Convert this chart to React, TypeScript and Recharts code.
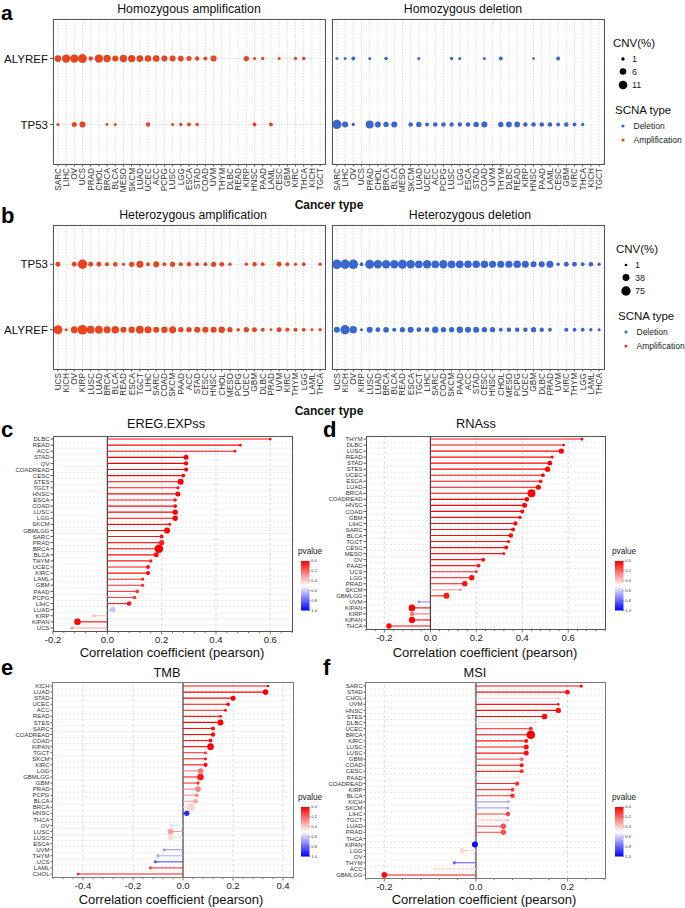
import React from 'react';
import { ScatterChart, Scatter, XAxis, YAxis, CartesianGrid, ReferenceLine } from 'recharts';

const FONT = '"Liberation Sans", Arial, Helvetica, sans-serif';
const RED = '#E8441F';
const BLUE = '#3966CF';

// ---------- Panel a : homozygous CNV (%) ----------
const homoCancers = ['SARC','LIHC','OV','UCS','PRAD','CHOL','BRCA','BLCA','MESO','SKCM','LUAD','UCEC','ACC','PCPG','LUSC','LGG','ESCA','STAD','COAD','UVM','THYM','DLBC','READ','KIRP','HNSC','PAAD','LAML','CESC','GBM','KIRC','THCA','KICH','TGCT'];
const aGenes = ['ALYREF', 'TP53'];
const homoAmpALYREF = [6.2,10,10,11.5,2.6,10,7.7,5,7.7,7.5,6.2,6,6,5,5,4.3,3.2,2.2,1.8,5,null,null,null,3.7,0.7,1,null,0.7,null,1,1.3,null,null];
const homoAmpTP53 = [0.7,null,3.2,5,null,null,0.5,0.7,null,null,null,2.2,null,null,0.7,1,1.6,1.3,null,null,null,null,null,null,1.6,null,1.6,null,null,null,null,null,null];
const homoDelALYREF = [0.7,0.7,1.6,null,0.7,null,1.3,null,null,null,0.7,null,null,null,1,0.7,null,null,0.7,null,1.6,null,null,null,0.5,null,null,1.6,null,null,null,null,null];
const homoDelTP53 = [12.5,5,1,null,9.3,5,3.7,5,null,2.6,3.7,1.7,2.6,2.6,2.2,2.2,2.6,3.7,5,null,3.7,4.3,4.3,2.2,2.6,2.6,2.6,1.7,2.6,1.7,1,null,null];
const aLegendValues = [1, 6, 11];

// ---------- Panel b : heterozygous CNV (%) ----------
const hetCancers = ['UCS','KICH','OV','KIRP','LUSC','LUAD','BRCA','BLCA','READ','ESCA','TGCT','LIHC','SARC','COAD','SKCM','PAAD','ACC','STAD','CESC','HNSC','CHOL','MESO','PCPG','UCEC','GBM','DLBC','PRAD','UVM','KIRC','THYM','LGG','LAML','THCA'];
const bGenes = ['TP53', 'ALYREF'];
const hetAmpTP53 = [17,null,17,75,17,17,10,15,4,20,40,8,27,8,20,10,12,8,8,20,15,5,null,5,12,8,null,16,8,4,8,null,5];
const hetAmpALYREF = [70,3,40,80,50,50,40,48,28,32,50,42,28,32,40,20,20,28,28,28,32,20,5,20,17,8,1,17,10,10,8,2,4];
const hetDelTP53 = [78,75,78,8,68,60,58,58,68,60,50,58,50,58,50,50,48,48,48,42,42,42,48,40,28,28,40,6,16,16,8,14,5];
const hetDelALYREF = [28,75,45,3,28,15,24,10,20,28,15,15,32,20,20,32,28,28,20,20,8,12,13,13,20,12,8,null,10,8,8,5,3];
const bLegendValues = [1, 38, 75];

// ---------- Panel c : EREG.EXPss ----------
const cNames = ['DLBC','READ','ACC','STAD','OV','COADREAD','CESC','STES','TGCT','HNSC','ESCA','COAD','LUSC','LGG','SKCM','GBMLGG','SARC','PRAD','BRCA','BLCA','THYM','UCEC','KIRC','LAML','GBM','PAAD','PCPG','LIHC','LUAD','KIRP','KIPAN','UCS'];
const cR = [0.60,0.49,0.47,0.29,0.29,0.29,0.28,0.27,0.26,0.26,0.25,0.25,0.25,0.25,0.23,0.22,0.20,0.20,0.19,0.18,0.16,0.15,0.15,0.13,0.13,0.11,0.10,0.08,0.02,-0.05,-0.11,-0.13];
const cP = [0.01,0.01,0.02,0,0,0,0.01,0,0.03,0,0.02,0.01,0,0,0.04,0,0.03,0.06,0,0.02,0.05,0.03,0.02,0.08,0.08,0.1,0.12,0.05,0.62,0.38,0,0.3];
const cW = [1.2,1.2,1.2,5,3.8,3.8,2.8,6.7,2.2,5,2.2,2.8,5.5,5.5,1.7,6.7,3.3,5.5,11,5,2.2,3.3,3.8,2.2,2.2,2.8,2.8,4.5,5.5,2.8,7.5,1.7];
const cMajor = [-0.2, 0, 0.2, 0.4, 0.6];

// ---------- Panel d : RNAss ----------
const dNames = ['THYM','DLBC','LUSC','READ','STAD','STES','UCEC','ESCA','LUAD','BRCA','COADREAD','HNSC','COAD','GBM','LIHC','SARC','BLCA','TGCT','CESC','MESO','OV','PAAD','UCS','LGG','PRAD','SKCM','GBMLGG','UVM','KIPAN','KIRP','KIPAN','THCA'];
const dR = [0.66,0.58,0.57,0.53,0.52,0.51,0.49,0.48,0.47,0.44,0.42,0.41,0.40,0.39,0.37,0.36,0.35,0.34,0.33,0.32,0.23,0.21,0.20,0.18,0.15,0.13,0.07,-0.05,-0.08,-0.08,-0.08,-0.18];
const dP = [0.01,0.02,0,0.01,0,0,0.01,0.02,0,0,0,0,0.01,0.02,0.01,0.02,0.01,0.03,0.02,0.04,0.03,0.04,0.06,0.02,0.03,0.3,0.05,0.72,0,0.22,0,0.02];
const dW = [1.7,1.1,5.6,1.7,4.4,5.6,2.8,2.8,5,10,4.4,5,3.3,2.2,3.9,3.3,4.4,2.2,3.3,1.7,3.3,2.8,1.1,5.6,5.6,1.7,6.7,1.1,7.8,3.9,7.2,5.6];
const dMajor = [-0.2, 0, 0.2, 0.4, 0.6];

// ---------- Panel e : TMB ----------
const eNames = ['KICH','LUAD','STAD','UCEC','ACC','READ','STES','SARC','COADREAD','COAD','KIPAN','TGCT','SKCM','KIRC','LGG','GBMLGG','GBM','PRAD','PCPG','BLCA','BRCA','HNSC','THCA','OV','LUSC','LUSC','ESCA','UVM','THYM','UCS','LAML','CHOL'];
const eR = [0.34,0.33,0.20,0.18,0.17,0.15,0.15,0.12,0.12,0.11,0.11,0.09,0.09,0.09,0.07,0.07,0.06,0.06,0.055,0.05,0.03,0.015,null,-0.045,-0.05,-0.05,null,-0.075,-0.10,-0.11,-0.13,-0.42];
const eP = [0.02,0,0,0.01,0.04,0.05,0,0.02,0.01,0.03,0,0.1,0.05,0.03,0.22,0.05,0.1,0.25,0.28,0.32,0.42,0.92,null,0.56,0.3,0.43,null,0.7,0.66,0.85,0.15,0.05];
const eW = [1.1,6.1,5,2.8,1.7,1.7,6.7,3.3,3.9,3.3,7.8,1.7,1.7,3.9,5.6,7.8,2.2,6.1,3.3,4.4,11,5.6,null,3.3,6.1,6.1,null,1.7,2.2,1.7,2.2,1.1];
const eMajor = [-0.4, -0.2, 0, 0.2, 0.4];

// ---------- Panel f : MSI ----------
const fNames = ['SARC','STAD','CHOL','UVM','HNSC','STES','DLBC','UCEC','BRCA','KIRC','LUSC','LUSC','GBM','COAD','CESC','PAAD','COADREAD','KIRP','BLCA','KICH','SKCM','LIHC','TGCT','LUAD','PRAD','THCA','KIPAN','LGG','OV','THYM','ACC','GBMLGG'];
const fR = [0.23,0.20,0.18,0.18,0.18,0.15,0.13,0.12,0.12,0.11,0.11,0.11,0.10,0.10,0.10,0.094,0.09,0.08,0.08,0.071,0.07,0.07,0.07,0.06,0.06,null,-0.002,-0.03,null,-0.047,-0.09,-0.20];
const fP = [0.02,0.02,0.4,0.05,0.02,0.02,0.42,0.05,0,0.03,0.03,0.02,0.2,0.03,0.08,0.45,0.08,0.12,0.1,0.68,0.68,0.12,0.38,0.15,0.15,null,0.98,0.42,null,0.8,0.42,0.02];
const fW = [2.2,4.4,1.1,1.1,5.6,6.1,1.7,2.8,11,3.3,5,5,2.8,3.3,3.3,2.2,3.9,3.3,4.4,1.1,1.7,3.9,2.2,5.6,5.6,null,6.7,5.6,null,2.2,1.7,6.1];
const fMajor = [-0.2, 0, 0.2];

const pLegendTicks = ['0.0', '0.2', '0.4', '0.6', '0.8', '1.0'];

// ---------- helpers ----------
const rA = (v: number) => Math.sqrt(1.2 + 1.6 * v);
const rB = (v: number) => Math.sqrt(1.6 + 0.27 * v);
const rL = (w: number) => 1 + 0.3 * w;

function pColor(p: number) {
  if (p <= 0.5) {
    const g = Math.round(255 * (p / 0.5));
    return `rgb(255,${g},${g})`;
  }
  const rg = Math.round(255 * (1 - (p - 0.5) / 0.5));
  return `rgb(${rg},${rg},255)`;
}

function buildPoints(values: (number | null)[], row: number) {
  const out: { x: number; y: number; v: number }[] = [];
  values.forEach((v, i) => {
    if (v != null) out.push({ x: i + 1, y: row, v });
  });
  return out;
}

function stepTicks(lo: number, hi: number) {
  const out: number[] = [];
  const start = Math.ceil(lo / 0.04 - 1e-9);
  for (let k = start; k * 0.04 <= hi + 1e-9; k++) out.push(Math.round(k * 4) / 100);
  return out;
}

type DotProps = {
  cancers: string[];
  genes: string[];
  series: (number | null)[][];
  color: string;
  rScale: (v: number) => number;
  showY: boolean;
  width: number;
  height: number;
  marginTop: number;
  marginLeft: number;
  marginRight: number;
  yAxisWidth: number;
};

const DotPanel = (props: DotProps) => {
  const { cancers, genes, series, color, rScale, showY, width, height, marginTop, marginLeft, marginRight, yAxisWidth } = props;
  const xTicks = cancers.map((_, i) => i + 1);
  const yTicks = genes.map((_, i) => i + 1);
  const xDomain = [0.4, cancers.length + 0.6];
  const yDomain = [0.4, genes.length + 0.6];
  return (
    <ScatterChart width={width} height={height} margin={{ top: marginTop, right: marginRight, bottom: 0, left: marginLeft }}>
      <CartesianGrid stroke="#d2d2d2" strokeDasharray="1.5 1.5" strokeWidth={0.8} />
      <XAxis
        type="number"
        dataKey="x"
        domain={xDomain}
        ticks={xTicks}
        interval={0}
        height={36}
        tickSize={2.5}
        tickMargin={1.5}
        stroke="#555"
        axisLine={false}
        allowDataOverflow
        tick={(tp: any) => (
          <text
            x={tp.x}
            y={tp.y}
            transform={`rotate(-90 ${tp.x} ${tp.y})`}
            textAnchor="end"
            dy="0.35em"
            fontSize={8.2}
            fill="#333"
            fontFamily={FONT}
          >
            {cancers[Math.round(tp.payload.value) - 1]}
          </text>
        )}
      />
      <YAxis
        type="number"
        dataKey="y"
        domain={yDomain}
        reversed
        ticks={yTicks}
        interval={0}
        width={yAxisWidth}
        tickSize={showY ? 3 : 0}
        tickMargin={2}
        tickLine={showY}
        stroke="#555"
        axisLine={false}
        allowDataOverflow
        tick={showY ? { fontSize: 11.5, fill: '#111', fontFamily: FONT } : false}
        tickFormatter={(v: number) => genes[Math.round(v) - 1]}
      />
      {series.map((vals, gi) => (
        <Scatter
          key={gi}
          data={buildPoints(vals, gi + 1)}
          fill={color}
          isAnimationActive={false}
          shape={(sp: any) => <circle cx={sp.cx} cy={sp.cy} r={rScale(sp.payload.v)} fill={color} />}
        />
      ))}
    </ScatterChart>
  );
};

type LolliProps = {
  names: string[];
  values: (number | null)[];
  pvals: (number | null)[];
  weights: (number | null)[];
  majors: number[];
  domain: [number, number];
  width: number;
  height: number;
  yAxisWidth: number;
  zeroStroke: string;
  zeroWidth: number;
};

const LolliPanel = (props: LolliProps) => {
  const { names, values, pvals, weights, majors, domain, width, height, yAxisWidth, zeroStroke, zeroWidth } = props;
  const n = names.length;
  const rows = names
    .map((name, i) => ({ name, y: i + 1, x: values[i], p: pvals[i], w: weights[i] }))
    .filter((r) => r.x != null) as { name: string; y: number; x: number; p: number; w: number }[];
  const rowTicks = names.map((_, i) => i + 1);
  const halfTicks = names.slice(1).map((_, i) => i + 1.5);
  const allTicks = stepTicks(domain[0], domain[1]);
  const isMajor = (v: number) => majors.some((m) => Math.abs(m - v) < 1e-6);
  const yDomain = [0.5, n + 0.5];
  return (
    <ScatterChart width={width} height={height} margin={{ top: 6, right: 8, bottom: 0, left: 0 }}>
      <XAxis
        type="number"
        dataKey="x"
        domain={domain}
        ticks={allTicks}
        interval={0}
        height={14}
        tickSize={0}
        tickMargin={0}
        tickLine={false}
        axisLine={false}
        allowDataOverflow
        tick={(tp: any) => {
          const v = tp.payload.value as number;
          const major = isMajor(v);
          return (
            <g>
              <line x1={tp.x} x2={tp.x} y1={tp.y} y2={tp.y + (major ? 3.5 : 2.2)} stroke="#555" strokeWidth={0.8} />
              {major ? (
                <text x={tp.x} y={tp.y + 12} textAnchor="middle" fontSize={9.5} fill="#222" fontFamily={FONT}>
                  {v.toFixed(1)}
                </text>
              ) : null}
            </g>
          );
        }}
      />
      <YAxis
        type="number"
        dataKey="y"
        domain={yDomain}
        reversed
        ticks={rowTicks}
        interval={0}
        width={yAxisWidth}
        tickSize={2.5}
        tickMargin={1}
        stroke="#555"
        axisLine={false}
        allowDataOverflow
        tick={{ fontSize: 6, fill: '#333', fontFamily: FONT }}
        tickFormatter={(v: number) => names[Math.round(v) - 1]}
      />
      {halfTicks.map((h) => (
        <ReferenceLine key={'h' + h} y={h} stroke="#d9d9d9" strokeDasharray="2 2" strokeWidth={0.6} />
      ))}
      {majors.map((m) => (
        <ReferenceLine key={'v' + m} x={m} stroke="#cfcfcf" strokeDasharray="3 2" strokeWidth={0.7} />
      ))}
      <ReferenceLine x={0} stroke={zeroStroke} strokeWidth={zeroWidth} />
      {rows.map((r) => (
        <ReferenceLine
          key={'seg' + r.y}
          segment={[{ x: 0, y: r.y }, { x: r.x, y: r.y }]}
          stroke={pColor(r.p)}
          strokeWidth={1.1}
        />
      ))}
      <Scatter
        data={rows}
        isAnimationActive={false}
        shape={(sp: any) => <circle cx={sp.cx} cy={sp.cy} r={rL(sp.payload.w)} fill={pColor(sp.payload.p)} />}
      />
    </ScatterChart>
  );
};

const abs = (left: number, top: number): React.CSSProperties => ({ position: 'absolute', left, top });

const Frame = ({ x, y, w, h, color = '#555', bw = 1 }: { x: number; y: number; w: number; h: number; color?: string; bw?: number }) => (
  <div
    style={{
      position: 'absolute',
      left: x - bw / 2,
      top: y - bw / 2,
      width: w + bw,
      height: h + bw,
      border: `${bw}px solid ${color}`,
      boxSizing: 'border-box',
      pointerEvents: 'none',
      zIndex: 5,
    }}
  />
);

const PLegend = ({ x, y, id }: { x: number; y: number; id: string }) => {
  const bx = x + 3;
  const by = y + 7;
  const bw = 8.5;
  const bh = 49.5;
  return (
    <g>
      <defs>
        <linearGradient id={id} x1="0" y1="0" x2="0" y2="1">
          <stop offset="0" stopColor="#ff0000" />
          <stop offset="0.5" stopColor="#ffffff" />
          <stop offset="1" stopColor="#0000ff" />
        </linearGradient>
      </defs>
      <text x={x} y={y} fontSize={8.2} fill="#222" fontFamily={FONT}>pvalue</text>
      <rect x={bx} y={by} width={bw} height={bh} fill={`url(#${id})`} />
      {pLegendTicks.map((t, i) => {
        const ty = by + (bh * i) / (pLegendTicks.length - 1);
        return (
          <g key={t}>
            <line x1={bx + bw - 1.5} x2={bx + bw + 1} y1={ty} y2={ty} stroke="#555" strokeWidth={0.4} />
            <text x={bx + bw + 1.8} y={ty + 1.4} fontSize={4} fill="#333" fontFamily={FONT}>{t}</text>
          </g>
        );
      })}
    </g>
  );
};

const CnvLegend = ({ x, y, values, r }: { x: number; y: number; values: number[]; r: (v: number) => number }) => {
  const dotX = x + 10;
  const ys = [y + 16, y + 28.5, y + 42];
  return (
    <g fontFamily={FONT}>
      <text x={x} y={y + 4} fontSize={11.5} fill="#111">CNV(%)</text>
      {values.map((v, i) => (
        <g key={v}>
          <circle cx={dotX} cy={ys[i]} r={r(v)} fill="#000" />
          <text x={dotX + 9} y={ys[i] + 3.2} fontSize={9} fill="#222">{v}</text>
        </g>
      ))}
      <text x={x + 2} y={y + 71} fontSize={11.5} fill="#111">SCNA type</text>
      <circle cx={dotX} cy={y + 83} r={1.6} fill={BLUE} />
      <text x={dotX + 10.5} y={y + 86} fontSize={8.5} fill="#222">Deletion</text>
      <circle cx={dotX} cy={y + 97} r={1.6} fill={RED} />
      <text x={dotX + 10.5} y={y + 100} fontSize={8.5} fill="#222">Amplification</text>
    </g>
  );
};

export default function App() {
  const letter = { fontSize: 22, fontWeight: 700, fill: '#000', fontFamily: FONT } as const;
  const title = { fontSize: 12.3, fill: '#111', fontFamily: FONT, textAnchor: 'middle' } as const;
  const axisTitle = { fontSize: 13, fill: '#111', fontFamily: FONT, textAnchor: 'middle' } as const;
  const cancerType = { fontSize: 12, fontWeight: 700, fill: '#111', fontFamily: FONT, textAnchor: 'middle' } as const;
  return (
    <div style={{ position: 'absolute', left: 0, top: 0, width: 685, height: 908, background: '#fff', overflow: 'hidden' }}>
      {/* panel a */}
      <div style={abs(0, 0)}>
        <DotPanel cancers={homoCancers} genes={aGenes} series={[homoAmpALYREF, homoAmpTP53]} color={RED} rScale={rA} showY width={330} height={200} marginTop={19} marginLeft={0} marginRight={5} yAxisWidth={53} />
      </div>
      <div style={abs(330, 0)}>
        <DotPanel cancers={homoCancers} genes={aGenes} series={[homoDelALYREF, homoDelTP53]} color={BLUE} rScale={rA} showY={false} width={280} height={200} marginTop={19} marginLeft={2} marginRight={6} yAxisWidth={0} />
      </div>
      {/* panel b */}
      <div style={abs(0, 200)}>
        <DotPanel cancers={hetCancers} genes={bGenes} series={[hetAmpTP53, hetAmpALYREF]} color={RED} rScale={rB} showY width={330} height={205} marginTop={25} marginLeft={0} marginRight={5} yAxisWidth={53} />
      </div>
      <div style={abs(330, 200)}>
        <DotPanel cancers={hetCancers} genes={bGenes} series={[hetDelTP53, hetDelALYREF]} color={BLUE} rScale={rB} showY={false} width={280} height={205} marginTop={25} marginLeft={2} marginRight={6} yAxisWidth={0} />
      </div>
      {/* panel c */}
      <div style={abs(0, 430)}>
        <LolliPanel names={cNames} values={cR} pvals={cP} weights={cW} majors={cMajor} domain={[-0.2, 0.68]} width={300} height={215} yAxisWidth={53} zeroStroke="#222" zeroWidth={1} />
      </div>
      {/* panel d */}
      <div style={abs(320, 430)}>
        <LolliPanel names={dNames} values={dR} pvals={dP} weights={dW} majors={dMajor} domain={[-0.28, 0.76]} width={293} height={213} yAxisWidth={46} zeroStroke="#222" zeroWidth={1} />
      </div>
      {/* panel e */}
      <div style={abs(0, 677)}>
        <LolliPanel names={eNames} values={eR} pvals={eP} weights={eW} majors={eMajor} domain={[-0.52, 0.44]} width={301} height={214} yAxisWidth={53} zeroStroke="#8a8a8a" zeroWidth={2} />
      </div>
      {/* panel f */}
      <div style={abs(320, 677)}>
        <LolliPanel names={fNames} values={fR} pvals={fP} weights={fW} majors={fMajor} domain={[-0.24, 0.282]} width={293} height={215} yAxisWidth={46} zeroStroke="#8a8a8a" zeroWidth={2} />
      </div>

      {/* panel frames */}
      <Frame x={53} y={19} w={272} h={145} />
      <Frame x={332} y={19} w={272} h={145} />
      <Frame x={53} y={225} w={272} h={144} />
      <Frame x={332} y={225} w={272} h={144} />
      <Frame x={53} y={436} w={239} h={195} />
      <Frame x={366} y={436} w={239} h={193} />
      <Frame x={53} y={683} w={240} h={194} color="#7a7a7a" bw={1.5} />
      <Frame x={366} y={683} w={239} h={195} color="#7a7a7a" bw={1.5} />

      <svg width={685} height={908} style={{ position: 'absolute', left: 0, top: 0, pointerEvents: 'none', zIndex: 10 }}>
        <text x={1} y={19.5} {...letter} fontSize={21}>a</text>
        <text x={1} y={223} {...letter}>b</text>
        <text x={1} y={437} {...letter}>c</text>
        <text x={323} y={437} {...letter}>d</text>
        <text x={1} y={675} {...letter}>e</text>
        <text x={323} y={675} {...letter}>f</text>

        <text x={189} y={13} {...title}>Homozygous amplification</text>
        <text x={463} y={13} {...title}>Homozygous deletion</text>
        <text x={193} y={219} {...title}>Heterozygous amplification</text>
        <text x={470} y={219} {...title}>Heterozygous deletion</text>
        <text x={329} y={209} {...cancerType}>Cancer type</text>
        <text x={329} y={415} {...cancerType}>Cancer type</text>

        <CnvLegend x={613} y={43} values={aLegendValues} r={rA} />
        <CnvLegend x={616} y={249} values={bLegendValues} r={rB} />

        <text x={166} y={428} {...title} fontSize={12.8}>EREG.EXPss</text>
        <text x={476} y={428} {...title} fontSize={12.8}>RNAss</text>
        <text x={167} y={677} {...title} fontSize={12.8}>TMB</text>
        <text x={475} y={677} {...title} fontSize={12.8}>MSI</text>

        <text x={172} y={657} {...axisTitle}>Correlation coefficient (pearson)</text>
        <text x={485} y={657} {...axisTitle}>Correlation coefficient (pearson)</text>
        <text x={171} y={903.5} {...axisTitle}>Correlation coefficient (pearson)</text>
        <text x={484} y={903.5} {...axisTitle}>Correlation coefficient (pearson)</text>

        <PLegend x={298} y={554} id="pg-c" />
        <PLegend x={612} y={554} id="pg-d" />
        <PLegend x={298} y={800} id="pg-e" />
        <PLegend x={612} y={800} id="pg-f" />
      </svg>
    </div>
  );
}
